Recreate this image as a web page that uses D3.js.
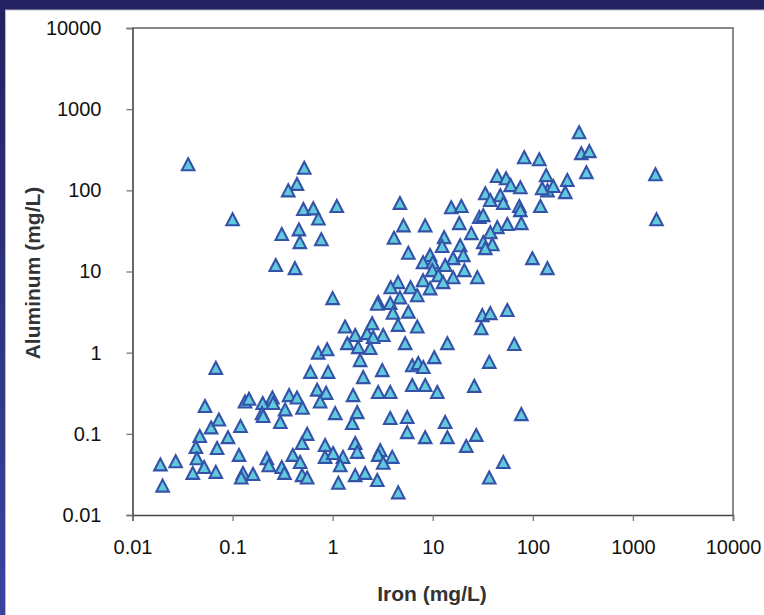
<!DOCTYPE html>
<html><head><meta charset="utf-8">
<script src="https://cdn.jsdelivr.net/npm/d3@7"></script>
<style>html,body{margin:0;padding:0;overflow:hidden;background:#fff}</style>
</head><body><svg id="c" width="764" height="615"></svg>
<script>
const iron = [0.036,0.10,0.52,0.44,0.36,0.51,0.64,0.72,1.1,0.31,0.46,0.47,0.77,0.27,0.42,1.0,
0.068,0.053,0.019,0.027,0.020,0.047,0.043,0.044,0.040,0.052,0.068,0.061,0.073,0.090,0.070,0.12,0.116,0.127,0.122,0.16,0.22,0.23,0.31,0.33,0.133,0.146,0.20,0.25,0.254,0.197,0.202,0.30,0.335,0.367,0.44,0.50,0.556,0.495,0.40,0.473,0.495,0.556,0.716,0.88,0.60,0.90,0.70,0.86,0.75,0.84,0.84,
4.7,5.1,8.4,4.1,5.7,9.4,8.0,10,9.9,11.4,8.0,9.4,4.5,3.8,6.0,7.0,4.7,3.76,2.85,2.79,5.7,4.0,4.5,7.0,1.33,1.68,2.21,2.48,3.2,2.54,1.40,1.80,2.37,5.3,14,1.88,2.02,3.13,6.24,7.16,8.04,10.35,6.24,8.41,11.1,2.85,3.76,1.60,1.76,1.57,1.06,3.76,5.56,5.56,13.3,14,8.4,21.6,27.2,50.7,36.7,76.7,30.5,65.3,36.7,26.0,1.68,1.76,2.99,2.85,3.94,3.2,1.01,1.27,1.19,1.68,2.11,2.79,1.14,4.52,
290,305,367,343,1680,1720,82,116,136,221,211,140,160,124,119,44,54,60,75,33.5,37.6,47.3,50.7,73.3,75,15.3,19.3,18.4,29.2,32,24.3,44.2,55.6,76.7,37.6,32,39.4,33.5,18.8,13.0,12.4,16.0,13.3,20.7,16.0,27.9,12.7,99,140,31.3,37.6,55.6,20.2];
const aluminum = [210,44,190,120,100,59,60,45,64,29,33,23,25,12,11,4.7,
0.65,0.22,0.042,0.046,0.023,0.094,0.069,0.050,0.033,0.039,0.034,0.12,0.15,0.091,0.067,0.125,0.055,0.033,0.029,0.032,0.050,0.041,0.039,0.033,0.25,0.27,0.24,0.28,0.24,0.18,0.166,0.14,0.20,0.30,0.28,0.21,0.10,0.077,0.055,0.045,0.031,0.029,1.0,1.1,0.58,0.58,0.35,0.32,0.25,0.073,0.052,
70,37,37,26,17,16,13,13,10.4,9.0,7.8,6.2,7.4,6.4,6.4,5.1,4.8,4.1,4.2,4.0,3.2,3.1,2.2,2.1,2.1,1.65,1.74,2.3,1.65,1.56,1.31,1.17,1.14,1.31,1.31,0.81,0.50,0.61,0.70,0.745,0.665,0.88,0.40,0.40,0.327,0.327,0.327,0.30,0.185,0.136,0.18,0.157,0.161,0.105,0.14,0.091,0.091,0.071,0.097,0.045,0.029,0.175,2.0,1.28,0.77,0.39,0.077,0.060,0.063,0.055,0.052,0.044,0.058,0.052,0.041,0.031,0.033,0.027,0.025,0.019,
520,287,304,167,158,44,256,242,154,134,95,100,113,106,64,150,141,116,109,92,76,87,70,64,57,62,64,39.5,47,49.5,29.7,35.2,38.4,39.5,30.5,23,21.7,19.4,21.1,26.5,20.6,14.6,12.0,10.4,8.5,8.5,7.4,14.6,11.0,2.9,3.07,3.35,15.9];
const tickValues = [0.01,0.1,1,10,100,1000,10000];
const tickLabels = ["0.01","0.1","1","10","100","1000","10000"];
const xTitle = "Iron (mg/L)";
const yTitle = "Aluminum (mg/L)";

const svg = d3.select("#c");
const defs = svg.append("defs");
const g1 = defs.append("linearGradient").attr("id","bg").attr("x1",0).attr("y1",0).attr("x2",0).attr("y2",1);
g1.append("stop").attr("offset","0%").attr("stop-color","#232160");
g1.append("stop").attr("offset","100%").attr("stop-color","#3a44a0");
svg.append("rect").attr("width",764).attr("height",615).attr("fill","url(#bg)");
svg.append("rect").attr("x",5.5).attr("y",10).attr("width",760).attr("height",610).attr("fill","#fff")
  .attr("stroke","#b8b8c8").attr("stroke-width",1);

const L=132.5, R=733, T=28, B=515;
const x = d3.scaleLog().domain([0.01,10000]).range([L,R]);
const y = d3.scaleLog().domain([0.01,10000]).range([B,T]);

svg.append("path").attr("d",`M${L},${T}H${R}V${B}`).attr("fill","none").attr("stroke","#8a8a8a").attr("stroke-width",2);

const fmt = d => tickLabels[tickValues.indexOf(d)];
const ya = svg.append("g").attr("transform",`translate(${L},0)`)
  .call(d3.axisLeft(y).tickValues(tickValues).tickFormat(fmt).tickSize(6).tickPadding(25));
const xa = svg.append("g").attr("transform",`translate(0,${B})`)
  .call(d3.axisBottom(x).tickValues(tickValues).tickFormat(fmt).tickSize(6).tickPadding(19));
[ya,xa].forEach(a=>{
  a.select(".domain").attr("stroke","#444").attr("stroke-width",1.6);
  a.selectAll(".tick line").attr("stroke","#777").attr("stroke-width",1.3);
  a.selectAll(".tick text").attr("fill","#111").style("font-family","'Liberation Sans',Arial,sans-serif").style("font-size","20px");
});

svg.append("text").attr("x",432).attr("y",601).attr("text-anchor","middle")
  .style("font-family","'Liberation Sans',Arial,sans-serif").style("font-size","21px").style("font-weight","bold")
  .attr("fill","#333").text(xTitle);
svg.append("text").attr("transform","translate(40,273) rotate(-90)").attr("text-anchor","middle")
  .style("font-family","'Liberation Sans',Arial,sans-serif").style("font-size","21px").style("font-weight","bold")
  .attr("fill","#333").text(yTitle);

const w=12.5, h=12;
const tri = `M0,${-h/2}L${w/2},${h/2}L${-w/2},${h/2}Z`;
const data = iron.map((v,i)=>({fe:v, al:aluminum[i]}));
svg.append("g").selectAll("path").data(data).join("path")
  .attr("d",tri)
  .attr("transform",d=>`translate(${x(d.fe)},${y(d.al)})`)
  .attr("fill","#62c8dc").attr("stroke","#3352a8").attr("stroke-width",2.1);
</script></body></html>
